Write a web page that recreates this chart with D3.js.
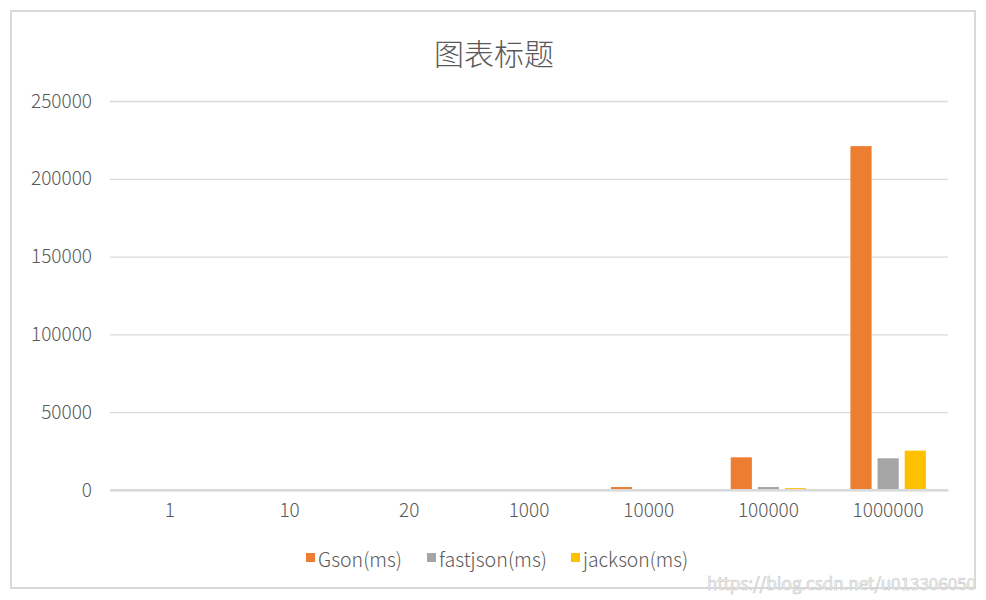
<!DOCTYPE html>
<html>
<head>
<meta charset="utf-8">
<script src="https://cdn.jsdelivr.net/npm/d3@7"></script>
<style>
  body { margin: 0; background: #fff; }
  text { font-family: "Noto Sans CJK SC", "Liberation Sans", sans-serif; }
</style>
</head>
<body>
<div id="chart"></div>
<script>
const categories = ["1", "10", "20", "1000", "10000", "100000", "1000000"];
const seriesNames = ["Gson(ms)", "fastjson(ms)", "jackson(ms)"];
const gsonValues = [60, 70, 90, 260, 1900, 21000, 221000];
const fastjsonValues = [120, 110, 120, 160, 300, 1900, 20400];
const jacksonValues = [40, 50, 60, 100, 200, 1200, 25300];
const yTicks = [0, 50000, 100000, 150000, 200000, 250000];
const colors = ["#ED7D31", "#A5A5A5", "#FFC000"];
const watermark = "https://blog.csdn.net/u013306050";

const width = 986, height = 600;
const margin = { top: 101, right: 38, bottom: 110, left: 110 };

const svg = d3.select("#chart")
  .append("svg")
  .attr("width", width)
  .attr("height", height);

// chart frame
svg.append("rect")
  .attr("x", 11).attr("y", 11)
  .attr("width", 964).attr("height", 577)
  .attr("fill", "#fff")
  .attr("stroke", "#d9d9d9")
  .attr("stroke-width", 2);

svg.append("text")
  .attr("x", 494).attr("y", 52)
  .attr("text-anchor", "middle")
  .attr("dominant-baseline", "central")
  .attr("font-size", 30)
  .attr("font-weight", 300)
  .attr("fill", "#595959")
  .text("图表标题");

const data = categories.map((c, i) => ({
  cat: c,
  values: [gsonValues[i], fastjsonValues[i], jacksonValues[i]]
}));

const x0 = d3.scaleBand()
  .domain(categories)
  .range([margin.left, width - margin.right])
  .paddingInner(0.32)
  .paddingOuter(0.16);

const x1 = d3.scaleBand()
  .domain(seriesNames)
  .range([0, x0.bandwidth()])
  .paddingInner(0.22)
  .paddingOuter(0.11);

const y = d3.scaleLinear()
  .domain([0, 250000])
  .range([height - margin.bottom, margin.top]);

// gridlines + y labels
const yAxis = d3.axisLeft(y)
  .tickValues(yTicks)
  .tickFormat(d3.format("d"))
  .tickSize(-(width - margin.left - margin.right))
  .tickPadding(18);

const yAxisGroup = svg.append("g")
  .attr("transform", `translate(${margin.left},0)`)
  .call(yAxis);
yAxisGroup.select(".domain").remove();
yAxisGroup.selectAll(".tick line").attr("stroke", "#d9d9d9").attr("stroke-width", 1.3);
yAxisGroup.selectAll(".tick text")
  .attr("font-size", 19)
  .attr("font-weight", 300)
  .attr("fill", "#595959");

// x labels
const xAxis = d3.axisBottom(x0).tickSize(0).tickPadding(14);
const xAxisGroup = svg.append("g")
  .attr("transform", `translate(0,${height - margin.bottom})`)
  .call(xAxis);
xAxisGroup.select(".domain").attr("stroke", "#d9d9d9").attr("stroke-width", 2);
xAxisGroup.selectAll(".tick text")
  .attr("font-size", 19)
  .attr("font-weight", 300)
  .attr("fill", "#595959");

// bars
svg.append("g")
  .selectAll("g")
  .data(data)
  .join("g")
  .attr("transform", (d) => `translate(${x0(d.cat)},0)`)
  .selectAll("rect")
  .data((d) => d.values.map((v, i) => ({ name: seriesNames[i], value: v, i })))
  .join("rect")
  .attr("x", (d) => x1(d.name))
  .attr("y", (d) => y(d.value))
  .attr("width", x1.bandwidth())
  .attr("height", (d) => y(0) - y(d.value))
  .attr("fill", (d) => colors[d.i]);

// re-draw baseline on top of bars
svg.append("line")
  .attr("x1", margin.left).attr("x2", width - margin.right)
  .attr("y1", y(0)).attr("y2", y(0))
  .attr("stroke", "#d9d9d9").attr("stroke-width", 2);

// legend (original font is narrow, so fit text to its widths)
const legendX = [306, 427, 571];
const legendTextW = [84, 108, 105];
const legend = svg.append("g")
  .selectAll("g")
  .data(seriesNames)
  .join("g")
  .attr("transform", (d, i) => `translate(${legendX[i]},558)`);
legend.append("rect")
  .attr("x", 0).attr("y", -5)
  .attr("width", 9).attr("height", 9)
  .attr("fill", (d, i) => colors[i]);
legend.append("text")
  .attr("x", 12).attr("y", 0)
  .attr("dominant-baseline", "central")
  .attr("font-size", 20)
  .attr("font-weight", 300)
  .attr("fill", "#595959")
  .attr("textLength", (d, i) => legendTextW[i])
  .attr("lengthAdjust", "spacingAndGlyphs")
  .text((d) => d);

// watermark
svg.append("text")
  .attr("x", 976).attr("y", 582)
  .attr("text-anchor", "end")
  .attr("dominant-baseline", "central")
  .attr("font-family", "Liberation Sans Narrow, Liberation Sans, sans-serif")
  .attr("font-size", 17)
  .attr("fill", "#f4f4f4")
  .attr("stroke", "#c8c8c8")
  .attr("stroke-width", 0.6)
  .text(watermark);
</script>
</body>
</html>
